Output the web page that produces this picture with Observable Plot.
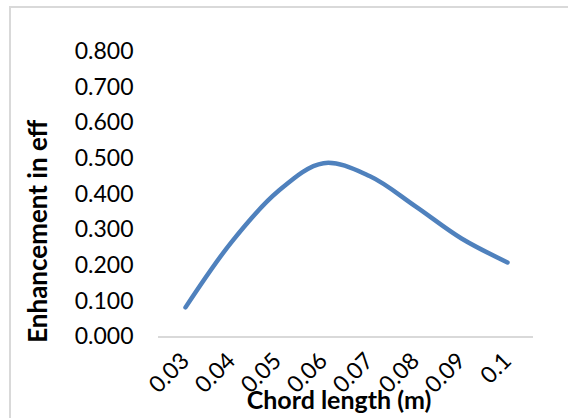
<!DOCTYPE html>
<html><head>
<meta charset="utf-8">
<script src="https://cdn.jsdelivr.net/npm/d3@7"></script>
<script src="https://cdn.jsdelivr.net/npm/@observablehq/plot@0.6"></script>
<style>
body{margin:0;background:#fff}
#wrap{position:relative;width:568px;height:418px;overflow:hidden;background:#fff}
#border{position:absolute;left:9px;top:6px;width:700px;height:700px;border-left:2px solid #d9d9d9;border-top:2px solid #d9d9d9}
#wrap svg{position:absolute;left:0;top:0}
</style>
</head><body><div id="wrap"><div id="border"></div></div>
<script>
const categories = ["0.03","0.04","0.05","0.06","0.07","0.08","0.09","0.1"];
const enhancement = [0.083,0.266,0.407,0.487,0.451,0.366,0.276,0.209];
const yTicks = [0,0.1,0.2,0.3,0.4,0.5,0.6,0.7,0.8];
const xTitle = "Chord length (m)";
const yTitle = "Enhancement in eff";
const data = categories.map((c,i)=>({c, v: enhancement[i]}));
const chart = Plot.plot({
  width:568, height:418, marginLeft:158, marginRight:35, marginTop:51, marginBottom:81.5,
  style:{fontFamily:"Lato", fontSize:"23px", color:"#000", background:"transparent", overflow:"visible"},
  x:{type:"point", domain:categories, padding:0.5},
  y:{domain:[0,0.8]},
  marks:[
    Plot.ruleY([0],{stroke:"#d9d9d9", strokeWidth:2}),
    Plot.axisY({ticks:yTicks, tickFormat:d3.format(".3f"), tickSize:0, tickPadding:25, label:null, fontSize:23}),
    Plot.axisX({tickSize:0, tickRotate:-45, tickPadding:20, label:null, fontSize:23}),
    Plot.lineY(data,{x:"c", y:"v", curve:"catmull-rom", stroke:"#4f81bd", strokeWidth:4.5, strokeLinecap:"round"}),
    Plot.text([yTitle], {frameAnchor:"left", textAnchor:"middle", text:d=>d, rotate:-90, dx:-120, dy:37, fontWeight:"bold", fontSize:26, fill:"#000"}),
    Plot.text([xTitle], {frameAnchor:"bottom", text:d=>d, dx:-7, dy:72, fontWeight:"bold", fontSize:25, fill:"#000"})
  ]
});
document.getElementById("wrap").appendChild(chart);
</script>
</body></html>
